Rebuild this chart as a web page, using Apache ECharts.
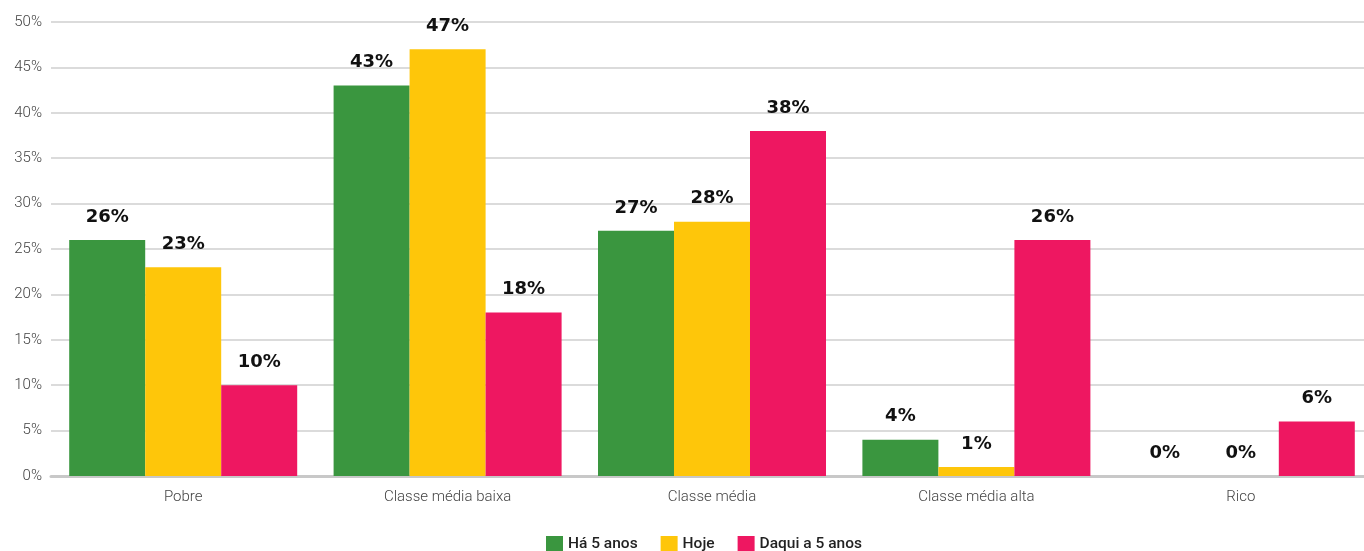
<!DOCTYPE html>
<html>
<head>
<meta charset="utf-8">
<script src="https://cdn.jsdelivr.net/npm/echarts@6/dist/echarts.min.js"></script>
<style>
  html, body { margin: 0; padding: 0; background: #fff; overflow: hidden; }
  #chart { width: 1373px; height: 551px; }
</style>
</head>
<body>
<div id="chart"></div>
<script>
// Social class perception: five years ago, today, five years from now (%)
const categories = ['Pobre', 'Classe média baixa', 'Classe média', 'Classe média alta', 'Rico'];
const seriesNames = ['Há 5 anos', 'Hoje', 'Daqui a 5 anos'];
const ha5anos = [26, 43, 27, 4, 0];
const hoje = [23, 47, 28, 1, 0];
const daqui5anos = [10, 18, 38, 26, 6];
const colors = ['#3A963F', '#FEC60A', '#EE1761'];

const chart = echarts.init(document.getElementById('chart'));

function makeSeries(name, data, color) {
  return {
    name: name,
    type: 'bar',
    data: data,
    barWidth: 76,
    barGap: '0%',
    itemStyle: { color: color },
    label: {
      show: true,
      position: 'top',
      distance: 14,
      formatter: '{c}%',
      color: '#111',
      fontFamily: 'DejaVu Sans',
      fontWeight: 'bold',
      fontSize: 18
    }
  };
}

chart.setOption({
  animation: false,
  grid: { left: 51, right: 0, top: 22, bottom: 75, containLabel: false },
  legend: {
    top: 531,
    left: 541,
    itemWidth: 17,
    itemHeight: 17,
    itemGap: 23,
    icon: 'rect',
    textStyle: { fontFamily: 'Roboto', fontWeight: 500, fontSize: 15.5, color: '#222' },
    data: seriesNames
  },
  xAxis: {
    type: 'category',
    data: categories,
    axisLine: { lineStyle: { color: '#C8C8C8', width: 3 } },
    axisTick: { show: false },
    axisLabel: { margin: 14, fontFamily: 'Roboto', fontWeight: 300, fontSize: 15, color: '#444' }
  },
  yAxis: {
    type: 'value',
    min: 0,
    max: 50,
    interval: 5,
    axisLine: { show: false },
    axisTick: { show: false },
    splitLine: { lineStyle: { color: '#CFCFCF', width: 1.5 } },
    axisLabel: { margin: 9, formatter: '{value}%', fontFamily: 'Roboto', fontWeight: 300, fontSize: 15, color: '#444' }
  },
  series: [
    makeSeries(seriesNames[0], ha5anos, colors[0]),
    makeSeries(seriesNames[1], hoje, colors[1]),
    makeSeries(seriesNames[2], daqui5anos, colors[2])
  ]
});
</script>
</body>
</html>
